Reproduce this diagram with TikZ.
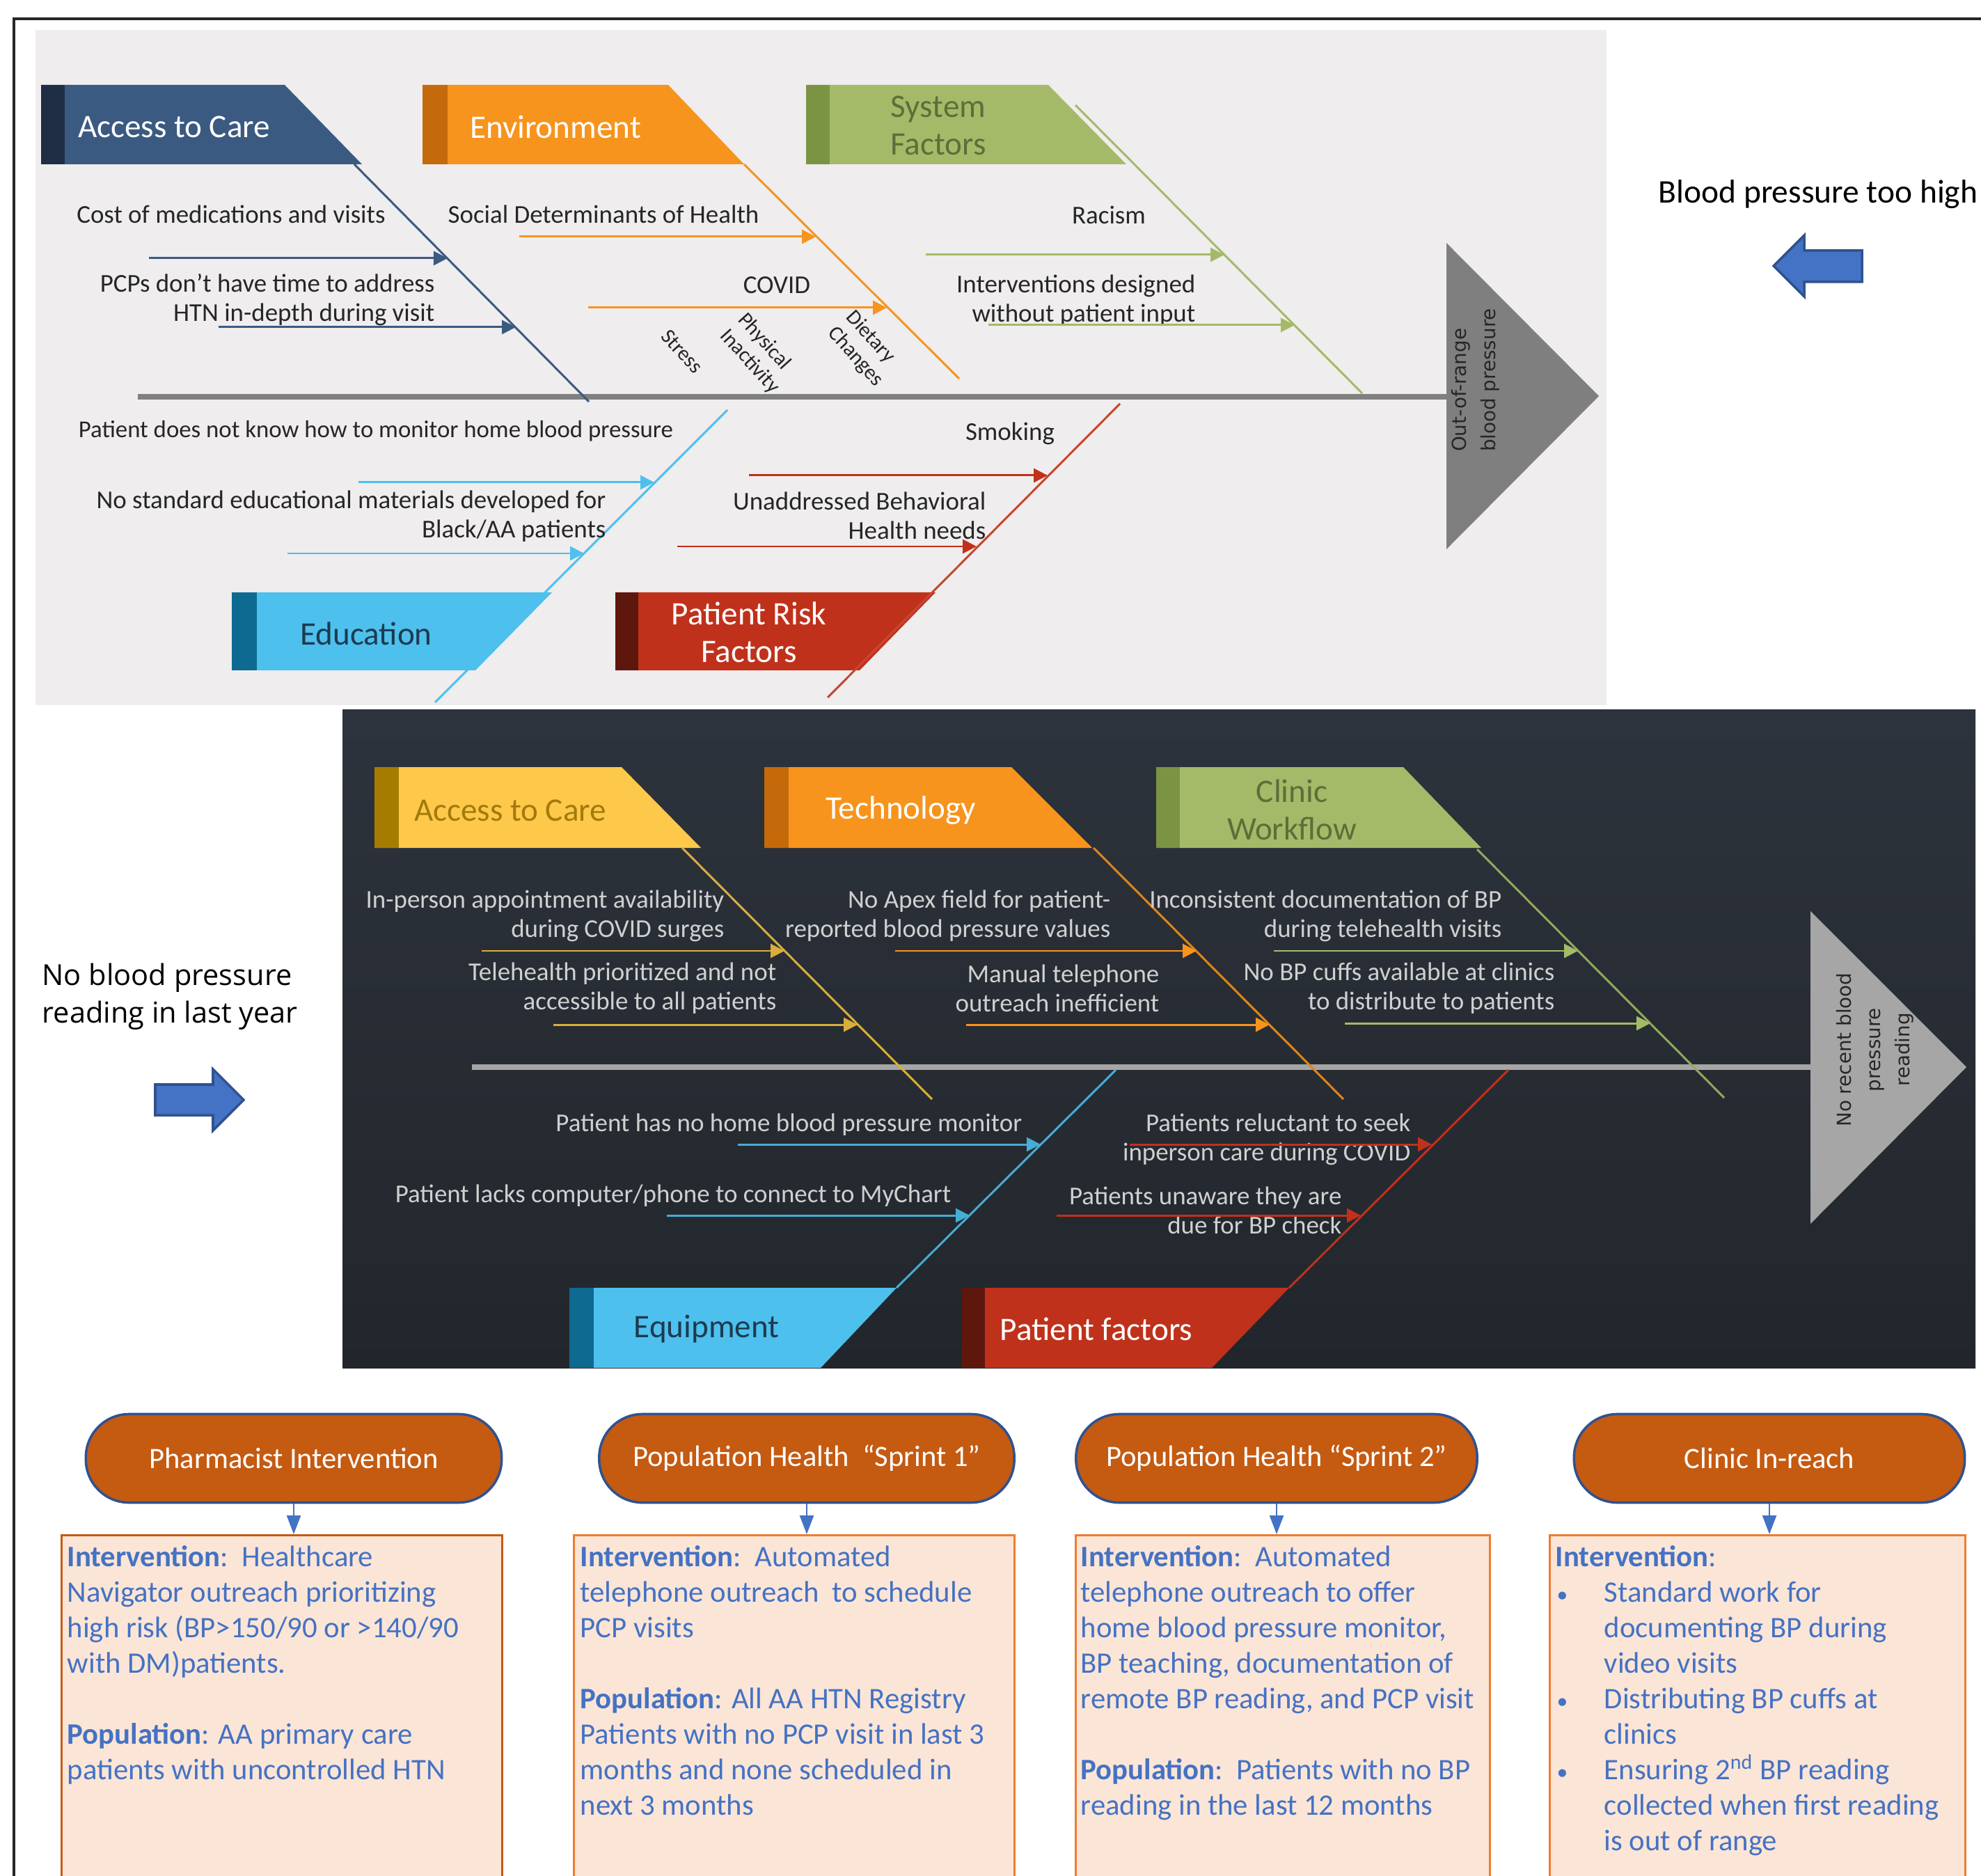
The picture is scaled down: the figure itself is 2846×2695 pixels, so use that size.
\documentclass[tikz,border=0pt]{standalone}
\usepackage{fontspec}
\setmainfont{Carlito}
\newfontfamily\osans{Open Sans}
\newfontfamily\dvs{DejaVu Sans}
\usetikzlibrary{arrows.meta}
\newcommand\fs[2]{\fontsize{#1pt}{#2pt}\selectfont}
\definecolor{topbg}{HTML}{EFEDEE}
\definecolor{dtop}{HTML}{2D333C}
\definecolor{dbot}{HTML}{22262C}
\definecolor{navy}{HTML}{3B5A82}
\definecolor{navys}{HTML}{1F2D45}
\definecolor{orng}{HTML}{F7941D}
\definecolor{orngs}{HTML}{C46A0A}
\definecolor{grn}{HTML}{A5BA68}
\definecolor{grns}{HTML}{7B9443}
\definecolor{grnt}{HTML}{5E6E3A}
\definecolor{lblue}{HTML}{4DC0EE}
\definecolor{lblues}{HTML}{0E6A90}
\definecolor{lbluet}{HTML}{1D3A4F}
\definecolor{rd}{HTML}{C0311B}
\definecolor{rds}{HTML}{5E170C}
\definecolor{yel}{HTML}{FEC84B}
\definecolor{yels}{HTML}{A67C00}
\definecolor{yelt}{HTML}{A37A0A}
\definecolor{yline}{HTML}{D9AE3A}
\definecolor{spinegray}{HTML}{808080}
\definecolor{headgray}{HTML}{7F7F7F}
\definecolor{dspine}{HTML}{A6A6A6}
\definecolor{tdark}{HTML}{262626}
\definecolor{tlight}{HTML}{D0D0D0}
\definecolor{bparrow}{HTML}{4472C4}
\definecolor{bparrowd}{HTML}{2F528F}
\definecolor{rust}{HTML}{C55A11}
\definecolor{peach}{HTML}{FBE5D6}
\definecolor{peachb}{HTML}{ED7D31}
\newcommand\catbox[8]{%
  \fill[#7] (#1,#3) -- (#5,#3) -- (#6,#4) -- (#1,#4) -- cycle;
  \fill[#8] (#1,#3) rectangle (#2,#4);}
\begin{document}
\begin{tikzpicture}[x=0.01cm,y=-0.01cm,
  ft/.style={inner sep=0, font={\fs{10.5}{12}}, align=right},
  cat/.style={inner sep=0, font={\fs{13.4}{15.4}}, align=center},
  farr/.style={line width=0.85pt, -{Triangle[length=0.2cm,width=0.2cm]}},
  bone/.style={line width=0.85pt},
  rtxt/.style={inner sep=0, font={\fs{8.6}{9.9}}, rotate=-48, align=left, text=tdark},
  htxt/.style={inner sep=0, font={\dvs\fs{7.9}{12}}, rotate=90, text=tdark},
  stad/.style={rectangle, rounded corners=0.62cm, minimum height=1.27cm, fill=rust, draw=bparrowd, line width=1pt, text=white, font={\fs{12.1}{14.5}}},
  pbox/.style={rectangle, fill=peach, line width=0.9pt, minimum height=5cm, anchor=north},
  btxt/.style={inner sep=0, anchor=north west, align=left, text=bparrow, font={\fs{12.15}{14.5}}},
  barr/.style={draw=bparrow, line width=0.7pt, -{Triangle[length=0.27cm,width=0.2cm]}},
  bigarrow/.style={fill=bparrow, draw=bparrowd, line width=1pt}]
\useasboundingbox (0,0) rectangle (2846,2695);
% frame
\draw[line width=1pt, black!85] (20,2700) -- (20,27) -- (2850,27);

% ================= TOP FISHBONE =================
\fill[topbg] (51,43) rectangle (2308,1013);
\draw[spinegray, line width=2.3pt] (198,570) -- (2078,570);
\fill[headgray] (2078,349) -- (2297,569) -- (2078,789) -- cycle;
\node[htxt, align=left] (head1) at (2120,546) {Out-of-range\\blood pressure};

% category boxes
\catbox{59}{93}{122}{236}{409}{520}{navy}{navys}
\node[cat, text=white] (c1) at (250,182) {Access to Care};
\catbox{607}{643}{122}{236}{960}{1069}{orng}{orngs}
\node[cat, text=white] (c2) at (798,182) {Environment};
\catbox{1158}{1192}{122}{236}{1506}{1618}{grn}{grns}
\node[cat, text=grnt] (c3) at (1348,180) {System\\Factors};
\catbox{333}{369}{851}{963}{793}{683}{lblue}{lblues}
\node[cat, text=lbluet] (c4) at (526,910) {Education};
\catbox{884}{917}{851}{963}{1344}{1235}{rd}{rds}
\node[cat, text=white] (c5) at (1076,908) {Patient Risk\\Factors};

% bones
\coordinate (b1a) at (509,236); \coordinate (b1b) at (846,577);
\coordinate (b2a) at (1069,236); \coordinate (b2b) at (1378,544);
\coordinate (b3a) at (1545,151); \coordinate (b3b) at (1957,565);
\coordinate (b4a) at (625,1009); \coordinate (b4b) at (1045,589);
\coordinate (b5a) at (1189,1002); \coordinate (b5b) at (1609,580);
\draw[bone, navy] (b1a) -- (b1b);
\draw[bone, orng] (b2a) -- (b2b);
\draw[bone, grn] (b3a) -- (b3b);
\draw[bone, lblue] (b4a) -- (b4b);
\draw[bone, rd!90!white] (b5a) -- (b5b);

% causes - access
\node[ft, text=tdark] (t11) at (332,308) {Cost of medications and visits};
\draw[farr, navy] (214,371) -- (643,371);
\node[ft, text=tdark, anchor=east] (t12) at (625,431) {PCPs don’t have time to address\\HTN in-depth during visit};
\draw[farr, navy] (314,470) -- (741,470);
% environment
\node[ft, text=tdark] (t21) at (867,308) {Social Determinants of Health};
\draw[farr, orng] (746,340) -- (1172,340);
\node[ft, text=tdark] (t22) at (1116,410) {COVID};
\draw[farr, orng] (845,442) -- (1274,442);
\node[rtxt] (r1) at (980,505) {Stress};
\node[rtxt] (r2) at (1090,508) {Physical\\Inactivity};
\node[rtxt] (r3) at (1242,501) {Dietary\\Changes};
% system
\node[ft, text=tdark] (t31) at (1593,309) {Racism};
\draw[farr, grn] (1330,366) -- (1759,366);
\node[ft, text=tdark, anchor=east] (t32) at (1718,432) {Interventions designed\\without patient input};
\draw[farr, grn] (1420,467) -- (1860,467);
% education
\node[ft, text=tdark, font={\fs{9.9}{12}}] (t41) at (540,619) {Patient does not know how to monitor home blood pressure};
\draw[farr, lblue] (515,693) -- (940,693);
\node[ft, text=tdark, anchor=east] (t42) at (871,742) {No standard educational materials developed for\\Black/AA patients};
\draw[farr, lblue] (413,795) -- (839,795);
% patient risk
\node[ft, text=tdark] (t51) at (1451,623) {Smoking};
\draw[farr, rd] (1076,683) -- (1505,683);
\node[ft, text=tdark, anchor=east] (t52) at (1417,741) {Unaddressed Behavioral\\Health needs};
\draw[farr, rd] (973,785) -- (1403,785);

% right label and arrow
\node[inner sep=0, font={\fs{13.5}{16}}] (bphigh) at (2612,279) {Blood pressure too high};
\filldraw[bigarrow] (2675,360) -- (2592,360) -- (2592,338) -- (2548,382) -- (2592,426) -- (2592,405) -- (2675,405) -- cycle;

% ================= DARK FISHBONE =================
\shade[top color=dtop, bottom color=dbot] (492,1020) rectangle (2838,1965);
\draw[dspine, line width=2.5pt] (678,1533) -- (2601,1533);
\fill[dspine] (2601,1309) -- (2825,1533) -- (2601,1758) -- cycle;
\node[htxt, align=center] (head2) at (2694,1508) {No recent blood\\pressure\\reading};

\catbox{538}{573}{1102}{1218}{893}{1007}{yel}{yels}
\node[cat, text=yelt] (d1) at (733,1164) {Access to Care};
\catbox{1098}{1133}{1102}{1218}{1453}{1569}{orng}{orngs}
\node[cat, text=white] (d2) at (1294,1164) {Technology};
\catbox{1661}{1695}{1102}{1218}{2016}{2128}{grn}{grns}
\node[cat, text=grnt] (d3) at (1856,1163) {Clinic\\Workflow};
\catbox{818}{853}{1850}{1965}{1288}{1179}{lblue}{lblues}
\node[cat, text=lbluet] (d4) at (1015,1909) {Equipment};
\catbox{1382}{1415}{1850}{1965}{1852}{1741}{rd}{rds}
\node[cat, text=white] (d5) at (1575,1909) {Patient factors};

\coordinate (e1a) at (980,1218); \coordinate (e1b) at (1339,1579);
\coordinate (e2a) at (1571,1218); \coordinate (e2b) at (1930,1579);
\coordinate (e3a) at (2122,1220); \coordinate (e3b) at (2477,1577);
\coordinate (e4a) at (1288,1850); \coordinate (e4b) at (1603,1537);
\coordinate (e5a) at (1852,1850); \coordinate (e5b) at (2167,1537);
\draw[bone, yline] (e1a) -- (e1b);
\draw[bone, orng!90!black] (e2a) -- (e2b);
\draw[bone, grn!90!black] (e3a) -- (e3b);
\draw[bone, lblue!90!black] (e4a) -- (e4b);
\draw[bone, rd] (e5a) -- (e5b);

\node[ft, text=tlight, anchor=east] (u11) at (1041,1316) {In-person appointment availability\\during COVID surges};
\draw[farr, yline] (692,1366) -- (1127,1366);
\node[ft, text=tlight, anchor=east] (u12) at (1116,1420) {Telehealth prioritized and not\\accessible to all patients};
\draw[farr, yline] (795,1472) -- (1232,1472);
\node[ft, text=tlight, anchor=east] (u21) at (1596,1316) {No Apex field for patient-\\reported blood pressure values};
\draw[farr, orng] (1286,1366) -- (1719,1366);
\node[ft, text=tlight, anchor=east] (u22) at (1666,1420) {Manual telephone\\outreach inefficient};
\draw[farr, orng] (1388,1472) -- (1824,1472);
\node[ft, text=tlight, anchor=east] (u31) at (2158,1316) {Inconsistent documentation of BP\\during telehealth visits};
\draw[farr, grn] (1830,1366) -- (2267,1366);
\node[ft, text=tlight, anchor=east] (u32) at (2234,1420) {No BP cuffs available at clinics\\to distribute to patients};
\draw[farr, grn] (1932,1470) -- (2371,1470);
\node[ft, text=tlight, anchor=east] (u41) at (1469,1616) {Patient has no home blood pressure monitor};
\draw[farr, lblue!90!black] (1060,1644) -- (1495,1644);
\node[ft, text=tlight, anchor=east] (u42) at (1367,1718) {Patient lacks computer/phone to connect to MyChart};
\draw[farr, lblue!90!black] (958,1746) -- (1393,1746);
\node[ft, text=tlight, anchor=east] (u51) at (2027,1637) {Patients reluctant to seek\\inperson care during COVID};
\draw[farr, rd] (1623,1644) -- (2057,1644);
\node[ft, text=tlight, anchor=east] (u52) at (1928,1739) {Patients unaware they are\\due for BP check};
\draw[farr, rd] (1518,1746) -- (1955,1746);

% left label and arrow
\node[inner sep=0, anchor=west, align=left, font={\osans\fs{11.8}{15.4}}] (nobp) at (60,1432) {No blood pressure\\reading in last year};
\filldraw[bigarrow] (223,1558) -- (306,1558) -- (306,1536) -- (350,1580) -- (306,1624) -- (306,1602) -- (223,1602) -- cycle;

% ================= INTERVENTIONS =================
\node[stad, minimum width=5.97cm] (s1) at (422,2095) {Pharmacist Intervention};
\node[stad, minimum width=5.96cm] (s2) at (1159,2095) {Population Health\ \ “Sprint 1”};
\node[stad, minimum width=5.76cm] (s3) at (1834,2095) {Population Health “Sprint 2”};
\node[stad, minimum width=5.61cm] (s4) at (2542,2095) {Clinic In-reach};

\node[pbox, draw=rust, minimum width=6.32cm] (p1) at (405,2204) {};
\node[pbox, draw=peachb, minimum width=6.32cm] (p2) at (1141,2204) {};
\node[pbox, draw=peachb, minimum width=5.94cm] (p3) at (1843,2204) {};
\node[pbox, draw=peachb, minimum width=5.96cm] (p4) at (2525,2204) {};

\draw[barr] (s1.south) -- (s1.south |- p1.north);
\draw[barr] (s2.south) -- (s2.south |- p2.north);
\draw[barr] (s3.south) -- (s3.south |- p3.north);
\draw[barr] (s4.south) -- (s4.south |- p4.north);

\node[btxt] (x1) at (96,2220) {\textbf{Intervention}:\ \ Healthcare\\Navigator outreach prioritizing\\high risk (BP>150/90 or >140/90\\with DM)patients.\\[14.5pt]\textbf{Population}: AA primary care\\patients with uncontrolled HTN};
\node[btxt] (x2) at (833,2220) {\textbf{Intervention}:\ \ Automated\\telephone outreach\ \ to schedule\\PCP visits\\[14.5pt]\textbf{Population}: All AA HTN Registry\\Patients with no PCP visit in last 3\\months and none scheduled in\\next 3 months};
\node[btxt] (x3) at (1552,2220) {\textbf{Intervention}:\ \ Automated\\telephone outreach to offer\\home blood pressure monitor,\\BP teaching, documentation of\\remote BP reading, and PCP visit\\[14.5pt]\textbf{Population}:\ \ Patients with no BP\\reading in the last 12 months};
\node[btxt] (x4) at (2234,2220) {\textbf{Intervention}:\\\makebox[0.7cm][l]{\hspace{0.02cm}\small•}Standard work for\\\hspace*{0.7cm}documenting BP during\\\hspace*{0.7cm}video visits\\\makebox[0.7cm][l]{\hspace{0.02cm}\small•}Distributing BP cuffs at\\\hspace*{0.7cm}clinics\\\makebox[0.7cm][l]{\hspace{0.02cm}\small•}Ensuring 2\textsuperscript{nd} BP reading\\\hspace*{0.7cm}collected when first reading\\\hspace*{0.7cm}is out of range};
\end{tikzpicture}
\end{document}
